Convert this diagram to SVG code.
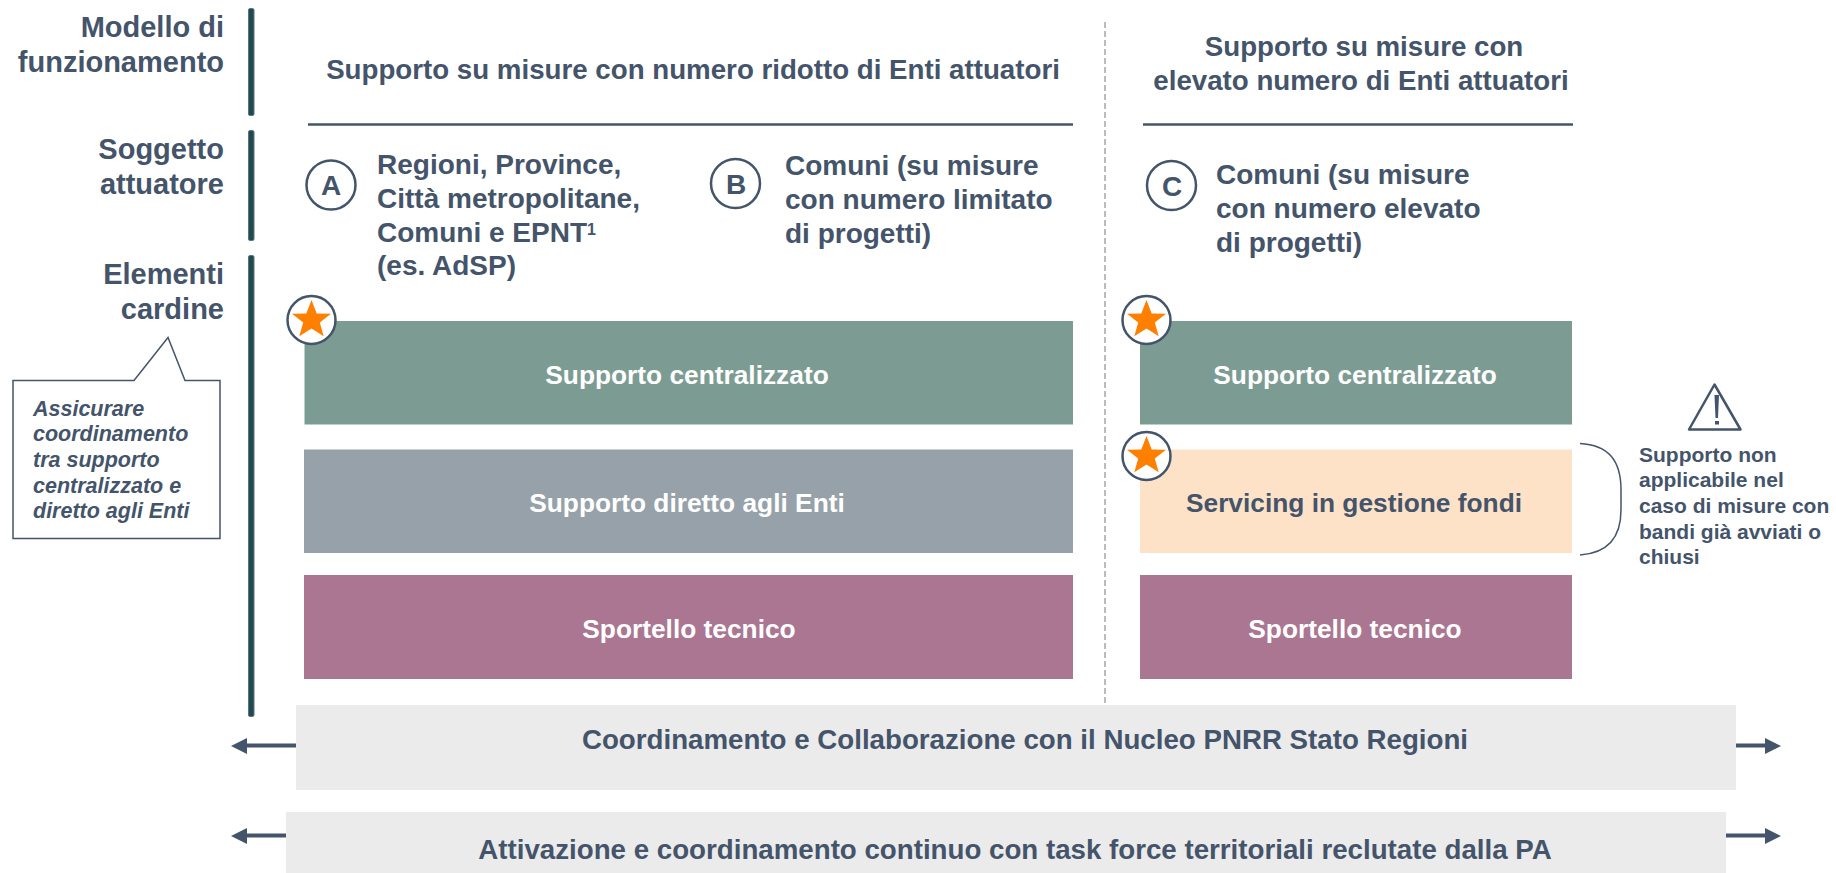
<svg xmlns="http://www.w3.org/2000/svg" width="1836" height="873" viewBox="0 0 1836 873">
<style>
text{font-family:"Liberation Sans",Arial,sans-serif;font-weight:700;fill:#44546a}
.h{font-size:29px}
.r{text-anchor:end}
.m{text-anchor:middle}
.w{fill:#fff}
.bar{fill:#204a50;stroke:#5d7380;stroke-width:1}
.rule{stroke:#44546a;stroke-width:2.5;fill:none}
.c{fill:#fff;stroke:#44546a;stroke-width:2.5}
.star{fill:#ff8000}
.gn{fill:#7c9c93}.gy{fill:#97a1a9}.pu{fill:#aa7691}.or{fill:#fee2c8}.lg{fill:#ebebeb}
.ar{stroke:#44546a;stroke-width:4;fill:none}
.n{font-size:28px}
.b{font-size:26.300px}
.t{font-size:27.700px}
.s{font-size:21px}
.i{font-size:21.500px;font-style:italic}
</style>
<defs>
<polygon id="st" points="0,-20 5.2,-6.6 19.5,-6.2 8.3,2.6 12.2,16.3 0,8.4 -12.2,16.3 -8.3,2.6 -19.5,-6.2 -5.2,-6.6" class="star"/>
</defs>
<g id="row-labels">
<rect class="bar" x="248.500" y="8.500" width="5.500" height="107" rx="1.500"/>
<rect class="bar" x="248.500" y="130.500" width="5.500" height="110" rx="1.500"/>
<rect class="bar" x="248.500" y="255.500" width="5.500" height="461" rx="1.500"/>
<text class="h r" x="224" y="37">Modello di</text>
<text class="h r" x="224" y="72">funzionamento</text>
<text class="h r" x="224" y="159">Soggetto</text>
<text class="h r" x="224" y="194">attuatore</text>
<text class="h r" x="224" y="284">Elementi</text>
<text class="h r" x="224" y="319">cardine</text>
</g>
<g id="headers">
<text class="t m" x="693" y="79">Supporto su misure con numero ridotto di Enti attuatori</text>
<text class="t m" x="1364" y="56">Supporto su misure con</text>
<text class="t m" x="1361" y="90">elevato numero di Enti attuatori</text>
<line class="rule" x1="308" y1="124.500" x2="1073" y2="124.500"/>
<line class="rule" x1="1143" y1="124.500" x2="1573" y2="124.500"/>
<line x1="1105" y1="22" x2="1105" y2="705" stroke="#a6a6a6" stroke-width="1.500" stroke-dasharray="6 3"/>
</g>
<g id="subject-a">
<circle class="c" cx="331" cy="185" r="24.500"/>
<text class="n m" x="331" y="195">A</text>
<text class="n" x="377" y="174">Regioni, Province,</text>
<text class="n" x="377" y="208">Città metropolitane,</text>
<text class="n" x="377" y="242">Comuni e EPNT<tspan font-size="16" dy="-7">1</tspan></text>
<text class="n" x="377" y="275">(es. AdSP)</text>
</g>
<g id="subject-b">
<circle class="c" cx="735.500" cy="183.500" r="24.500"/>
<text class="n m" x="736" y="194">B</text>
<text class="n" x="785" y="175">Comuni (su misure</text>
<text class="n" x="785" y="209">con numero limitato</text>
<text class="n" x="785" y="243">di progetti)</text>
</g>
<g id="subject-c">
<circle class="c" cx="1171.500" cy="185.500" r="24.500"/>
<text class="n m" x="1172" y="196">C</text>
<text class="n" x="1216" y="184">Comuni (su misure</text>
<text class="n" x="1216" y="218">con numero elevato</text>
<text class="n" x="1216" y="252">di progetti)</text>
</g>
<g id="callout">
<path d="M13 380.500H134L168 337.500L185 380.500H220V538.500H13Z" fill="#fff" stroke="#44546a" stroke-width="1.500"/>
<text class="i" x="33" y="416">Assicurare</text>
<text class="i" x="33" y="441">coordinamento</text>
<text class="i" x="33" y="467">tra supporto</text>
<text class="i" x="33" y="493">centralizzato e</text>
<text class="i" x="33" y="518">diretto agli Enti</text>
</g>
<g id="left-central"><rect class="gn" x="304.500" y="321" width="768.500" height="103.500"/><text class="b m w" x="687" y="384">Supporto centralizzato</text></g>
<g id="left-direct"><rect class="gy" x="304" y="449.500" width="769" height="103.500"/><text class="b m w" x="687" y="512">Supporto diretto agli Enti</text></g>
<g id="left-desk"><rect class="pu" x="304" y="575" width="769" height="104"/><text class="b m w" x="689" y="638">Sportello tecnico</text></g>
<g id="right-central"><rect class="gn" x="1140" y="321" width="432" height="103.500"/><text class="b m w" x="1355" y="384">Supporto centralizzato</text></g>
<g id="right-servicing"><rect class="or" x="1140" y="449.500" width="432" height="103.500"/><text class="b m" x="1354" y="512">Servicing in gestione fondi</text></g>
<g id="right-desk"><rect class="pu" x="1140" y="575" width="432" height="104"/><text class="b m w" x="1355" y="638">Sportello tecnico</text></g>
<g id="star-1"><circle class="c" cx="311.500" cy="320" r="24"/><use href="#st" x="311.500" y="320"/></g>
<g id="star-2"><circle class="c" cx="1146.500" cy="320" r="24"/><use href="#st" x="1146.500" y="320"/></g>
<g id="star-3"><circle class="c" cx="1146.500" cy="456" r="24"/><use href="#st" x="1146.500" y="456"/></g>
<g id="note">
<path d="M1580 443.500C1608 445 1621 460 1621 490V510C1621 538 1608 553 1580 555" fill="none" stroke="#44546a" stroke-width="1.500"/>
<path d="M1714.500 384.500L1689 429.500H1740.500Z" fill="none" stroke="#44546a" stroke-width="2.500" stroke-linejoin="round"/>
<path d="M1714.500 395H1719L1718 418H1715.500ZM1715 421H1719V424.500H1715Z" fill="#44546a"/>
<text class="s" x="1639" y="462">Supporto non</text>
<text class="s" x="1639" y="487">applicabile nel</text>
<text class="s" x="1639" y="513">caso di misure con</text>
<text class="s" x="1639" y="539">bandi già avviati o</text>
<text class="s" x="1639" y="564">chiusi</text>
</g>
<g id="band-1"><rect class="lg" x="296" y="705" width="1440" height="85"/><text class="t m" x="1025" y="749">Coordinamento e Collaborazione con il Nucleo PNRR Stato Regioni</text></g>
<g id="band-2"><rect class="lg" x="286" y="812" width="1440" height="61"/><text class="t m" x="1015" y="859">Attivazione e coordinamento continuo con task force territoriali reclutate dalla PA</text></g>
<g id="connectors">
<path class="ar" d="M296 745.500H245M286 835.500H245M1736 745.500H1768M1726 835.500H1768"/>
<path fill="#44546a" d="M231 746L247 738V754ZM231 836L247 828V844ZM1781 746L1765 738V754ZM1781 836L1765 828V844Z"/>
</g>
</svg>
